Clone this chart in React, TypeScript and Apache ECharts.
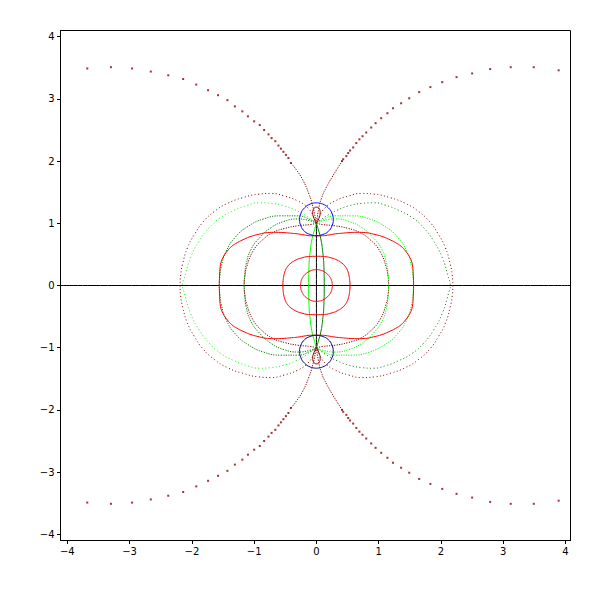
import React, { useEffect, useRef } from "react";
import * as echarts from "echarts";

// ---- tick labels ----
const X_TICKS = [-4, -3, -2, -1, 0, 1, 2, 3, 4];
const Y_TICKS = [-4, -3, -2, -1, 0, 1, 2, 3, 4];
const X_RANGE = [-4.11, 4.08];
const Y_RANGE = [-4.1, 4.1];

// ---- traces (upper-left quadrant, from x-axis crossing to focus (0,1)) ----
const outerRimUL = [[-2.19, 0], [-2.18, 0.17], [-2.15, 0.34], [-2.07, 0.61], [-1.96, 0.82], [-1.83, 1.01], [-1.64, 1.19], [-1.43, 1.32], [-1.19, 1.41], [-0.92, 1.47], [-0.73, 1.48], [-0.52, 1.44], [-0.3, 1.36], [-0.14, 1.25], [-0.04, 1.1], [0, 1]];
const outerGreenUL = [[-2.15, 0], [-2.12, 0.13], [-2.02, 0.45], [-1.88, 0.72], [-1.72, 0.93], [-1.54, 1.09], [-1.32, 1.21], [-1.11, 1.29], [-0.92, 1.33], [-0.73, 1.32], [-0.52, 1.28], [-0.33, 1.21], [-0.2, 1.14], [-0.06, 1.05], [0, 1]];
const midGreenUL = [[-1.56, 0], [-1.55, 0.15], [-1.53, 0.3], [-1.45, 0.55], [-1.3, 0.78], [-1.1, 0.95], [-0.85, 1.07], [-0.57, 1.12], [-0.3, 1.12], [-0.1, 1.06], [0, 1]];
const innerGreenUL = [[-1.16, 0], [-1.15, 0.17], [-1.13, 0.34], [-1.05, 0.58], [-0.91, 0.77], [-0.73, 0.93], [-0.52, 1.03], [-0.3, 1.07], [-0.1, 1.04], [0, 1]];
const innerRimUL = [[-1.16, 0], [-1.15, 0.15], [-1.12, 0.3], [-1.02, 0.55], [-0.88, 0.72], [-0.7, 0.85], [-0.5, 0.92], [-0.3, 0.96], [-0.1, 0.98], [0, 1]];
const lensUL = [[-0.125, 0], [-0.12, 0.3], [-0.1, 0.55], [-0.07, 0.75], [-0.03, 0.9], [0, 1]];
// closed curves (upper-left quadrant, from x-axis to y-axis)
const redOvalUL = [[-1.56, 0], [-1.555, 0.17], [-1.54, 0.34], [-1.5, 0.45], [-1.43, 0.555], [-1.36, 0.63], [-1.27, 0.69], [-1.16, 0.745], [-1.05, 0.79], [-0.92, 0.825], [-0.79, 0.85], [-0.65, 0.855], [-0.52, 0.85], [-0.4, 0.84], [-0.3, 0.83], [-0.18, 0.81], [-0.09, 0.8], [0, 0.8]];
const redMidUL = [[-0.54, 0], [-0.535, 0.08], [-0.525, 0.15], [-0.5, 0.24], [-0.46, 0.31], [-0.41, 0.36], [-0.33, 0.41], [-0.25, 0.44], [-0.13, 0.465], [0, 0.47]];
const redInnerUL = [[-0.255, 0], [-0.25, 0.05], [-0.236, 0.1], [-0.21, 0.145], [-0.18, 0.18], [-0.14, 0.21], [-0.1, 0.235], [-0.05, 0.25], [0, 0.255]];
// circles around the foci
const topCircle = [[0, 1.33], [0.1, 1.31], [0.19, 1.25], [0.25, 1.16], [0.27, 1.06], [0.25, 0.96], [0.19, 0.87], [0.1, 0.82], [0, 0.8], [-0.1, 0.82], [-0.19, 0.87], [-0.25, 0.96], [-0.27, 1.06], [-0.25, 1.16], [-0.19, 1.25], [-0.1, 1.31], [0, 1.33]];
const bottomCircle = [[0, -1.33], [0.1, -1.31], [0.19, -1.25], [0.25, -1.16], [0.27, -1.06], [0.25, -0.96], [0.19, -0.87], [0.1, -0.82], [0, -0.8], [-0.1, -0.82], [-0.19, -0.87], [-0.25, -0.96], [-0.27, -1.06], [-0.25, -1.16], [-0.19, -1.25], [-0.1, -1.31], [0, -1.33]];
const focusLoop = [[0, 1], [-0.04, 1.08], [-0.06, 1.17], [-0.04, 1.24], [0, 1.26], [0.04, 1.24], [0.06, 1.17], [0.04, 1.08], [0, 1]];
// far-field dots (upper half)
const farDotsUL = [[-3.68, 3.49], [-3.3, 3.51], [-2.96, 3.49], [-2.66, 3.44], [-2.38, 3.38], [-2.14, 3.32], [-1.93, 3.23], [-1.74, 3.14], [-1.58, 3.06], [-1.43, 2.98], [-1.31, 2.88], [-1.19, 2.8], [-1.1, 2.72], [-1.0, 2.64], [-0.91, 2.58], [-0.84, 2.5], [-0.77, 2.43], [-0.72, 2.37], [-0.66, 2.32], [-0.61, 2.25], [-0.57, 2.2], [-0.53, 2.15], [-0.49, 2.1], [-0.45, 2.05], [-0.41, 1.97]];
const farTailUL = [[-0.41, 1.97], [-0.33, 1.87], [-0.22, 1.7], [-0.12, 1.47], [-0.06, 1.28], [0, 1]];
const farDotsUR = [[3.89, 3.46], [3.49, 3.51], [3.12, 3.51], [2.79, 3.48], [2.5, 3.41], [2.25, 3.35], [2.02, 3.27], [1.83, 3.19], [1.65, 3.11], [1.49, 3.01], [1.36, 2.93], [1.23, 2.85], [1.14, 2.77], [1.04, 2.69], [0.95, 2.61], [0.88, 2.54], [0.8, 2.46], [0.74, 2.4], [0.69, 2.35], [0.64, 2.29], [0.59, 2.22], [0.54, 2.17], [0.51, 2.13], [0.48, 2.08], [0.43, 2.03], [0.41, 2.0]];
const farTailUR = [[0.41, 2.0], [0.33, 1.87], [0.25, 1.74], [0.16, 1.58], [0.08, 1.4], [0.03, 1.2], [0, 1]];
const horizontalTrace = [[-4.11, 0], [4.08, 0]];
const verticalTrace = [[0, -1], [0, 1]];

const DARKRED = "#8b0000";
const LIME = "#00ff00";
const GREEN = "#008000";
const RED = "#ff0000";
const BLUE = "#0000ff";
const NAVY = "#000080";

type P = number[];
const mx = (p: P[]) => p.map(([x, y]) => [-x, y]);
const my = (p: P[]) => p.map(([x, y]) => [x, -y]);
const rev = (p: P[]) => p.slice().reverse();
const leftArc = (ul: P[]) => rev(ul).concat(my(ul).slice(1));
const closed = (ul: P[]) =>
  ul.concat(rev(mx(ul)).slice(1), mx(my(ul)).slice(1), rev(my(ul)).slice(1));

function line(data: P[], color: string, dash?: any, z = 2) {
  return {
    type: "line",
    data,
    smooth: 0.5,
    symbol: "none",
    silent: true,
    clip: true,
    z,
    lineStyle: { color, width: 1, type: dash ?? "solid" },
  };
}
function dots(data: P[], color: string) {
  return {
    type: "scatter",
    data,
    symbol: "rect",
    symbolSize: 2,
    silent: true,
    itemStyle: { color },
  };
}

const fmt = (v: number) => String(v).replace("-", "\u2212");

export default function App() {
  const ref = useRef<HTMLDivElement>(null);
  useEffect(() => {
    document.body.style.margin = "0";
    const chart = echarts.init(ref.current!, null, { renderer: "svg" });
    const DOT = [1, 2.5];
    const DOT2 = [1.2, 1.3];
    const series: any[] = [];
    series.push(line(horizontalTrace, "#000"));
    series.push(line(verticalTrace, "#000"));
    // far-field branches
    series.push(dots(farDotsUL, DARKRED), dots(my(farDotsUL), DARKRED));
    series.push(dots(farDotsUR, DARKRED), dots(my(farDotsUR), DARKRED));
    series.push(line(farTailUL, DARKRED, DOT2), line(my(farTailUL), DARKRED, DOT2));
    series.push(line(farTailUR, DARKRED, DOT2), line(my(farTailUR), DARKRED, DOT2));
    // loops through both foci
    const pairs: [P[], string, string, any][] = [
      [outerRimUL, DARKRED, DARKRED, DOT],
      [outerGreenUL, LIME, GREEN, DOT],
      [midGreenUL, GREEN, LIME, DOT2],
      [innerRimUL, DARKRED, DARKRED, DOT2],
      [innerGreenUL, GREEN, LIME, DOT2],
      [lensUL, LIME, GREEN, undefined],
    ];
    for (const [ul, cl, cr, d] of pairs) {
      const l = leftArc(ul);
      series.push(line(l, cl, d));
      series.push(line(mx(l), cr, d));
    }
    // closed red curves
    series.push(line(closed(redOvalUL), RED));
    series.push(line(closed(redMidUL), RED));
    series.push(line(closed(redInnerUL), RED));
    // focus circles
    series.push(line(topCircle, BLUE, undefined, 3));
    series.push(line(bottomCircle, NAVY, undefined, 3));
    series.push(line(focusLoop, DARKRED, undefined, 4));
    series.push(line(my(focusLoop), DARKRED, undefined, 4));

    const axisCommon = {
      type: "value",
      splitLine: { show: false },
      axisLine: { show: true, onZero: false, lineStyle: { color: "#000", width: 1 } },
    };
    chart.setOption({
      animation: false,
      grid: { left: 60.5, right: 29.5, top: 30.5, bottom: 59.5, show: true, borderColor: "#000", borderWidth: 1 },
      xAxis: {
        ...axisCommon,
        min: X_RANGE[0],
        max: X_RANGE[1],
        axisTick: { show: true, customValues: X_TICKS, length: 3.5, lineStyle: { color: "#000" } },
        axisLabel: { customValues: X_TICKS, formatter: fmt, color: "#000", fontSize: 10, fontFamily: "DejaVu Sans", margin: 6 },
      },
      yAxis: {
        ...axisCommon,
        min: Y_RANGE[0],
        max: Y_RANGE[1],
        axisTick: { show: true, customValues: Y_TICKS, length: 3.5, lineStyle: { color: "#000" } },
        axisLabel: { customValues: Y_TICKS, formatter: fmt, color: "#000", fontSize: 10, fontFamily: "DejaVu Sans", margin: 6 },
      },
      series,
    });
    return () => chart.dispose();
  }, []);
  return <div ref={ref} style={{ width: 600, height: 600 }} />;
}
